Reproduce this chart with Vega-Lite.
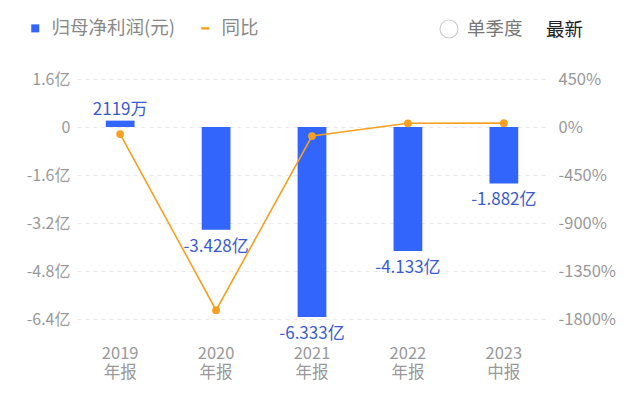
{
  "$schema": "https://vega.github.io/schema/vega-lite/v6.json",
  "width": 470,
  "height": 240,
  "autosize": {"type": "none"},
  "padding": {"left": 77, "top": 79, "right": 93, "bottom": 76},
  "background": "white",
  "config": {"font": "Noto Sans CJK SC", "view": {"stroke": null}},
  "data": {"values": [
    {"period": "2019 年报", "profit": 0.2119, "label": "2119万", "yoy": -66},
    {"period": "2020 年报", "profit": -3.428, "label": "-3.428亿", "yoy": -1717.8},
    {"period": "2021 年报", "profit": -6.333, "label": "-6.333亿", "yoy": -84.7},
    {"period": "2022 年报", "profit": -4.133, "label": "-4.133亿", "yoy": 34.7},
    {"period": "2023 中报", "profit": -1.882, "label": "-1.882亿", "yoy": 36}
  ]},
  "encoding": {
    "x": {
      "field": "period", "type": "ordinal", "sort": null,
      "scale": {"paddingInner": 0.7, "paddingOuter": 0.3},
      "axis": {"title": null, "labelAngle": 0, "domain": false, "ticks": false, "labelPadding": 26,
        "labelFontSize": 16.5, "labelColor": "#999999", "labelLineHeight": 19,
        "labelExpr": "split(datum.value, ' ')"}
    }
  },
  "layer": [
    {
      "encoding": {
        "y": {"field": "profit", "type": "quantitative", "scale": {"domain": [-6.4, 1.6], "nice": false, "zero": false},
          "axis": {"title": null, "values": [-6.4, -4.8, -3.2, -1.6, 0, 1.6], "domain": false, "ticks": false,
            "labelPadding": 7, "labelFontSize": 16, "labelColor": "#999999",
            "gridColor": "#e8e8e8", "gridDash": [4, 4], "gridWidth": 1,
            "labelExpr": "datum.value == 0 ? '0' : (datum.value < 0 ? '-' : '') + format(abs(datum.value), '.1f') + '亿'"}}
      },
      "layer": [
        {"mark": {"type": "bar"},
         "encoding": {"color": {"datum": "归母净利润(元)",
            "scale": {"domain": ["归母净利润(元)", "同比"], "range": ["#3165fb", "#f5a020"]},
            "legend": {"orient": "none", "legendX": -51, "legendY": -60, "direction": "horizontal", "title": null,
              "labelFontSize": 18.5, "labelColor": "#888888", "symbolSize": 64, "labelOffset": 7, "columnPadding": 20,
              "encode": {"symbols": {"update": {
                "shape": {"signal": "datum.value === '同比' ? 'M-1,-0.3H1V0.3H-1Z' : 'square'"},
                "fill": {"signal": "datum.value === '同比' ? '#f5a020' : '#3165fb'"},
                "strokeWidth": {"value": 0}, "opacity": {"value": 1}}}}}}}},
        {"mark": {"type": "rule", "stroke": "#8c8c8c", "strokeDash": [3, 3], "strokeWidth": 1},
         "encoding": {"y": {"datum": 0}}},
        {"transform": [{"filter": "datum.profit >= 0"}],
         "mark": {"type": "text", "baseline": "alphabetic", "dy": -6, "fontSize": 17, "color": "#3a5bd0"},
         "encoding": {"text": {"field": "label"}}},
        {"transform": [{"filter": "datum.profit < 0"}],
         "mark": {"type": "text", "baseline": "top", "dy": 9, "fontSize": 17, "color": "#3a5bd0"},
         "encoding": {"text": {"field": "label"}}}
      ]
    },
    {
      "encoding": {
        "y": {"field": "yoy", "type": "quantitative", "scale": {"domain": [-1800, 450], "nice": false, "zero": false},
          "axis": {"title": null, "orient": "right", "values": [-1800, -1350, -900, -450, 0, 450], "domain": false, "ticks": false,
            "grid": false, "labelPadding": 11, "labelFontSize": 16.5, "labelColor": "#999999",
            "labelExpr": "(datum.value < 0 ? '-' : '') + abs(datum.value) + '%'"}}
      },
      "layer": [
        {"mark": {"type": "line", "strokeWidth": 1.6}, "encoding": {"color": {"datum": "同比"}}},
        {"mark": {"type": "point", "filled": true, "strokeWidth": 1.2, "size": 30, "opacity": 1},
         "encoding": {
           "fill": {"datum": "单季度", "scale": {"range": ["white"]},
             "legend": {"orient": "none", "legendX": 362, "legendY": -60, "title": "最新", "titleOrient": "right",
               "titleFontSize": 18.5, "titleColor": "#222222", "titleFontWeight": "normal", "titlePadding": 23,
               "labelFontSize": 18.5, "labelColor": "#777777", "symbolSize": 324, "labelOffset": 8,
               "symbolType": "circle", "symbolStrokeWidth": 1.2}},
           "stroke": {"datum": "单季度", "scale": {"range": ["#cccccc"]},
             "legend": {"orient": "none", "legendX": 362, "legendY": -60, "title": "最新", "titleOrient": "right",
               "titleFontSize": 18.5, "titleColor": "#222222", "titleFontWeight": "normal", "titlePadding": 23,
               "labelFontSize": 18.5, "labelColor": "#777777", "symbolSize": 324, "labelOffset": 8,
               "symbolType": "circle", "symbolStrokeWidth": 1.2}}
         }},
        {"mark": {"type": "point", "filled": true, "size": 60, "opacity": 1}, "encoding": {"color": {"datum": "同比"}}}
      ]
    }
  ],
  "resolve": {"scale": {"y": "independent"}}
}
